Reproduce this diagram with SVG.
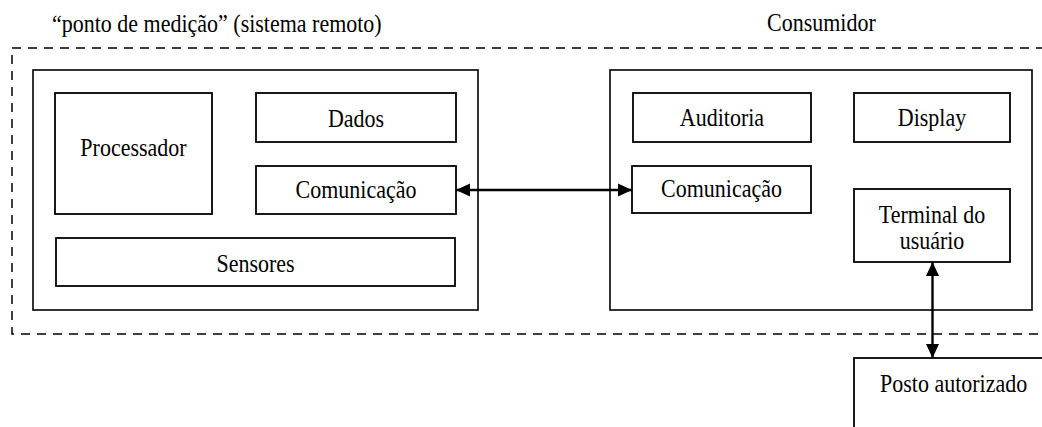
<svg xmlns="http://www.w3.org/2000/svg" width="1042" height="427" viewBox="0 0 1042 427">
<style>
.box{fill:#fff;stroke:#000;stroke-width:1.8}
.frame{fill:none;stroke:#000;stroke-width:1.6}
.dash{fill:none;stroke:#000;stroke-width:1.5;stroke-dasharray:9 7}
.t{font-size:22px;fill:#000}
.c{text-anchor:middle}
.conn{stroke:#000;stroke-width:2.4;fill:none}
</style>
<defs>
<marker id="ah" markerUnits="userSpaceOnUse" markerWidth="14" markerHeight="14" viewBox="0 0 14 14" refX="14" refY="7" orient="auto-start-reverse">
<path d="M0,0.5 L14,7 L0,13.5 Z" fill="#000"/>
</marker>
</defs>
<g font-family="Liberation Serif, Times New Roman, serif">
<rect class="dash" x="12" y="48" width="1050" height="286"/>
<text class="t" transform="translate(52,31.5) scale(1,1.12)">“ponto de medição” (sistema remoto)</text>
<text class="t" transform="translate(767,31) scale(1,1.12)">Consumidor</text>
<g id="remote">
<rect class="frame" x="33" y="70" width="445" height="240"/>
</g>
<g id="processador">
<rect class="box" x="55" y="93" width="157" height="121"/>
<text class="t c" transform="translate(133.5,156) scale(1,1.12)">Processador</text>
</g>
<g id="dados">
<rect class="box" x="256" y="93" width="200" height="49"/>
<text class="t c" transform="translate(356,127) scale(1,1.12)">Dados</text>
</g>
<g id="comunicacao1">
<rect class="box" x="256" y="166" width="200" height="48"/>
<text class="t c" transform="translate(356,198) scale(1,1.12)">Comunicação</text>
</g>
<g id="sensores">
<rect class="box" x="56" y="238" width="399" height="48"/>
<text class="t c" transform="translate(255.5,272) scale(1,1.12)">Sensores</text>
</g>
<g id="consumidor">
<rect class="frame" x="610" y="70" width="422" height="240"/>
</g>
<g id="auditoria">
<rect class="box" x="633" y="93" width="178" height="49"/>
<text class="t c" transform="translate(722,126) scale(1,1.12)">Auditoria</text>
</g>
<g id="display">
<rect class="box" x="854" y="93" width="156" height="49"/>
<text class="t c" transform="translate(932,126) scale(1,1.12)">Display</text>
</g>
<g id="comunicacao2">
<rect class="box" x="632" y="166" width="179" height="47"/>
<text class="t c" transform="translate(721.5,197) scale(1,1.12)">Comunicação</text>
</g>
<g id="terminal">
<rect class="box" x="854" y="189" width="156" height="73"/>
<text class="t c" transform="translate(932,223) scale(1,1.12)">Terminal do</text>
<text class="t c" transform="translate(932,249) scale(1,1.12)">usuário</text>
</g>
<g id="posto">
<rect class="box" x="854" y="358" width="200" height="90"/>
<text class="t" transform="translate(880,392) scale(1,1.12)">Posto autorizado</text>
</g>
<g id="connectors">
<line class="conn" x1="456" y1="190" x2="632" y2="190" marker-start="url(#ah)" marker-end="url(#ah)"/>
<line class="conn" x1="932.5" y1="262" x2="932.5" y2="358" marker-start="url(#ah)" marker-end="url(#ah)"/>
</g>
</g>
</svg>
